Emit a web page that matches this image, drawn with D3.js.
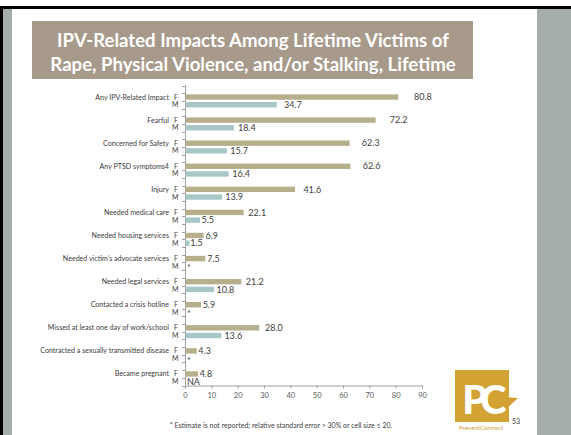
<!DOCTYPE html>
<html><head><meta charset="utf-8">
<script src="https://cdn.jsdelivr.net/npm/d3@7"></script>
<style>
html,body{margin:0;padding:0;background:#fff;}
svg{display:block;}
text{font-family:Lato,"Open Sans",sans-serif;}
</style></head>
<body><svg id="c" width="571" height="435"></svg>
<script>
const titleLines = ["IPV-Related Impacts Among Lifetime Victims of", "Rape, Physical Violence, and/or Stalking, Lifetime"];
const categories = ["Any IPV-Related Impact","Fearful","Concerned for Safety","Any PTSD symptoms4","Injury","Needed medical care","Needed housing services","Needed victim\u2019s advocate services","Needed legal services","Contacted a crisis hotline","Missed at least one day of work/school","Contracted a sexually transmitted disease","Became pregnant"];
const female = [80.8,72.2,62.3,62.6,41.6,22.1,6.9,7.5,21.2,5.9,28.0,4.3,4.8];
const male = [34.7,18.4,15.7,16.4,13.9,5.5,1.5,null,10.8,null,13.6,null,null];
const maleNotes = [null,null,null,null,null,null,null,"*",null,"*",null,"*","NA"];
const xTicks = [0,10,20,30,40,50,60,70,80,90];
const footnote = "* Estimate is not reported; relative standard error > 30% or cell size \u2264 20.";
const pageNumber = "53";

const svg = d3.select("#c");
const W = 571, H = 435;
const fCol = "#b7af8c", mCol = "#a8c7c7", txt = "#404040", axisCol = "#a0a0a0";

// slide frame
svg.append("rect").attr("x",0).attr("y",6).attr("width",W).attr("height",H-6).attr("fill","#fff");
svg.append("rect").attr("x",3).attr("y",9).attr("width",9).attr("height",H-9).attr("fill","#a3aeaa");
svg.append("rect").attr("x",537).attr("y",9).attr("width",W-537).attr("height",H-9).attr("fill","#a3aeaa");
svg.append("rect").attr("x",0).attr("y",6).attr("width",W).attr("height",3).attr("fill","#000");
svg.append("rect").attr("x",0).attr("y",6).attr("width",3).attr("height",H-6).attr("fill","#000");

// title
svg.append("rect").attr("x",32).attr("y",21).attr("width",441).attr("height",58).attr("fill","#a89a8b");
svg.append("g").selectAll("text").data(titleLines).join("text")
  .attr("x",253).attr("y",(d,i)=>46.5+i*24).attr("text-anchor","middle")
  .attr("fill","#fff").attr("font-weight","bold").attr("font-size",18.6).text(d=>d);

// scales
const rows = [];
categories.forEach((c,i)=>{ rows.push(i+"-b", i+"-F", i+"-M"); });
const y = d3.scaleBand().domain(rows).range([85.5,385.5]);
const x = d3.scaleLinear().domain([0,90]).range([185,422]);
const xLab = d3.scaleLinear().domain([0,90]).range([186,440]);
const bw = y.bandwidth(), bh = 5.4;

// y axis line + ticks
const g = svg.append("g");
g.append("line").attr("x1",185.5).attr("x2",185.5).attr("y1",85.5).attr("y2",385.5).attr("stroke",axisCol);
g.selectAll("line.yt").data(d3.range(rows.length+1)).join("line").attr("class","yt")
  .attr("x1",182).attr("x2",185.5)
  .attr("y1",d=>Math.round(85.5+d*bw)+0.5).attr("y2",d=>Math.round(85.5+d*bw)+0.5)
  .attr("stroke",axisCol);

// x axis
const xa = svg.append("g").attr("transform","translate(0,385.5)")
  .call(d3.axisBottom(x).tickValues(xTicks).tickSize(3).tickPadding(4).tickFormat(d3.format("d")));
xa.select(".domain").attr("stroke",axisCol);
xa.selectAll(".tick line").attr("stroke",axisCol);
xa.selectAll(".tick text").attr("fill","#595959").attr("font-size",7.5).attr("font-family","Lato,sans-serif");

// category and F/M labels
const idx = d3.range(categories.length);
svg.append("g").selectAll("text").data(idx).join("text")
  .attr("x",169).attr("y",i=>y(i+"-F")+bw/2+2.5).attr("text-anchor","end")
  .attr("fill",txt).attr("font-size",7.1).text(i=>categories[i]);
svg.append("g").selectAll("text").data(idx).join("text")
  .attr("x",178).attr("y",i=>y(i+"-F")+bw/2+2.5).attr("text-anchor","end")
  .attr("fill",txt).attr("font-size",7).text("F");
svg.append("g").selectAll("text").data(idx).join("text")
  .attr("x",178.5).attr("y",i=>y(i+"-M")+bw/2+2.5).attr("text-anchor","end")
  .attr("fill",txt).attr("font-size",7).text("M");

// bars
svg.append("g").selectAll("rect").data(idx).join("rect")
  .attr("x",x(0)+0.5).attr("y",i=>y(i+"-F")+(bw-bh)/2)
  .attr("width",i=>x(female[i])-x(0)).attr("height",bh).attr("fill",fCol);
svg.append("g").selectAll("rect").data(idx.filter(i=>male[i]!=null)).join("rect")
  .attr("x",x(0)+0.5).attr("y",i=>y(i+"-M")+(bw-bh)/2)
  .attr("width",i=>x(male[i])-x(0)).attr("height",bh).attr("fill",mCol);

// value labels
svg.append("g").selectAll("text").data(idx).join("text")
  .attr("x",i=>Math.max(xLab(female[i]), x(female[i])+2)).attr("y",i=>y(i+"-F")+bw/2+3.2)
  .attr("fill",txt).attr("font-size",9).text(i=>d3.format(".1f")(female[i]));
svg.append("g").selectAll("text").data(idx).join("text")
  .attr("x",i=>male[i]!=null ? Math.max(xLab(male[i]), x(male[i])+1) : 187)
  .attr("y",i=>y(i+"-M")+bw/2+(male[i]!=null||maleNotes[i]==="NA"?3.2:5))
  .attr("fill",txt).attr("font-size",9)
  .text(i=>male[i]!=null ? d3.format(".1f")(male[i]) : maleNotes[i]);

// footnote
svg.append("text").attr("x",281).attr("y",428).attr("text-anchor","middle")
  .attr("fill",txt).attr("font-size",7).text(footnote);

// logo
const lg = svg.append("g");
lg.append("rect").attr("x",455).attr("y",370).attr("width",54).attr("height",52).attr("fill","#d2a333");
lg.append("path").attr("d","M505,397 L518,398 L505,410 Z").attr("fill","#d2a333");
lg.append("text").attr("x",481).attr("y",414).attr("text-anchor","middle").attr("fill","#fff")
  .attr("font-weight","900").attr("font-size",40).attr("letter-spacing",-7).text("PC");
lg.append("text").attr("x",481).attr("y",430).attr("text-anchor","middle").attr("fill","#d2a333")
  .attr("font-size",6.2).text("PreventConnect");
svg.append("text").attr("x",512).attr("y",424).attr("fill","#404040").attr("font-size",7).text(pageNumber);
</script></body></html>
